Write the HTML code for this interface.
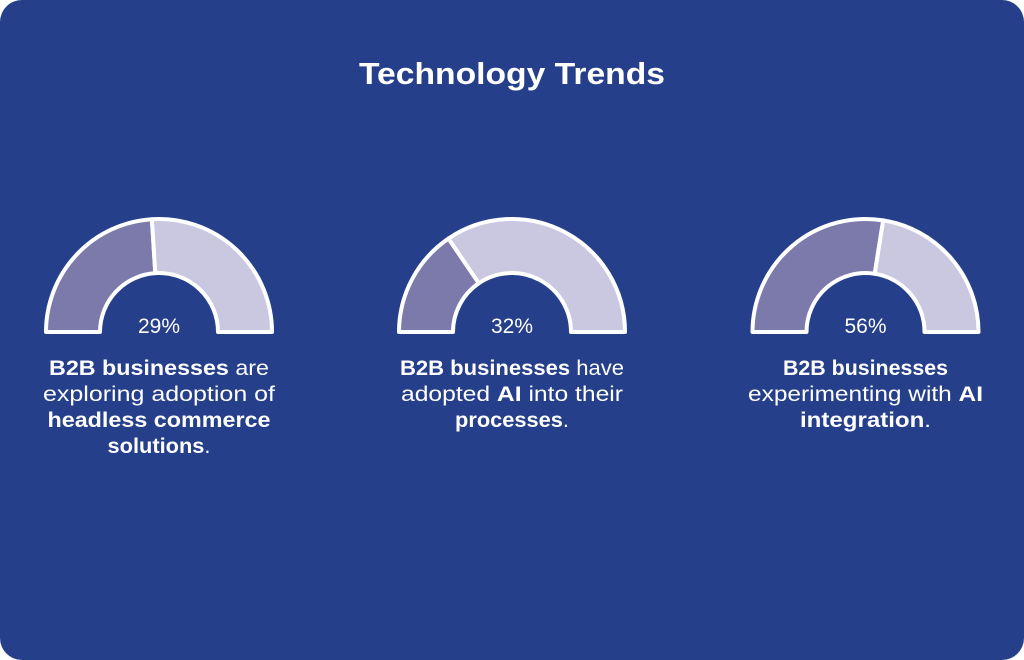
<!DOCTYPE html>
<html><head><meta charset="utf-8"><style>
html,body{margin:0;padding:0;background:#fff;}
svg{display:block;font-family:"Liberation Sans",sans-serif;}
</style></head><body>
<svg width="1024" height="660" viewBox="0 0 1024 660">
<rect x="0" y="0" width="1024" height="660" rx="22" fill="#253f8a"/>
<text x="512" y="84" text-anchor="middle" fill="#fff" font-size="31" font-weight="bold" textLength="306" lengthAdjust="spacingAndGlyphs">Technology Trends</text>
<g id="gauges"></g>
</svg>
<script>
const categories = ["headless-commerce","ai-adopted","ai-experimenting"];
const values = [29, 32, 56];
const arcFill = [48, 31, 55];
const lines = [
  [[["B2B businesses",1],[" are",0]],[["exploring adoption of",0]],[["headless commerce",1]],[["solutions",1],[".",0]]],
  [[["B2B businesses",1],[" have",0]],[["adopted ",0],["AI",1],[" into their",0]],[["processes",1],[".",0]]],
  [[["B2B businesses",1]],[["experimenting with ",0],["AI",1]],[["integration",1],[".",0]]]
];
const lineWidths = [[220,232,223,103],[224,222,114],[165,235,131]];
const NS="http://www.w3.org/2000/svg";
const g=document.getElementById('gauges');
const centers=[159,512,865.5], cy=332, R=113, r=59;
function pt(rad,a){return [centers[0]*0+rad*Math.cos(a), -rad*Math.sin(a)];}
function seg(cx,a0,a1){
  const p=(rad,a)=>[cx+rad*Math.cos(a), cy-rad*Math.sin(a)];
  const [x0,y0]=p(R,a0),[x1,y1]=p(R,a1),[x2,y2]=p(r,a1),[x3,y3]=p(r,a0);
  return `M${x0},${y0} A${R},${R} 0 0 1 ${x1},${y1} L${x2},${y2} A${r},${r} 0 0 0 ${x3},${y3} Z`;
}
categories.forEach((c,i)=>{
  const cx=centers[i];
  const split=Math.PI*(1-arcFill[i]/100);
  const grp=document.createElementNS(NS,'g');
  
  
  const d=document.createElementNS(NS,'path');
  d.setAttribute('d',seg(cx,Math.PI,split));
  d.setAttribute('fill','#7b7aaa');d.setAttribute('stroke','#fff');d.setAttribute('stroke-width','4');d.setAttribute('stroke-linejoin','round');
  
  
  const l=document.createElementNS(NS,'path');
  l.setAttribute('d',seg(cx,split,0));
  l.setAttribute('fill','#c9c8e0');l.setAttribute('stroke','#fff');l.setAttribute('stroke-width','4');l.setAttribute('stroke-linejoin','round');
  
  
  grp.appendChild(d);grp.appendChild(l);
  const t=document.createElementNS(NS,'text');
  t.setAttribute('x',cx);t.setAttribute('y',333);t.setAttribute('text-anchor','middle');
  t.setAttribute('fill','#fff');t.setAttribute('font-size','21');
  t.textContent=values[i]+'%';
  
  
  grp.appendChild(t);
  lines[i].forEach((ln,j)=>{
    const tx=document.createElementNS(NS,'text');
    tx.setAttribute('x',cx);tx.setAttribute('y',375+26*j);tx.setAttribute('text-anchor','middle');
    tx.setAttribute('fill','#fff');tx.setAttribute('font-size','21');
    tx.setAttribute('textLength',lineWidths[i][j]);tx.setAttribute('lengthAdjust','spacingAndGlyphs');
    
    
    ln.forEach(([s,b])=>{
      const ts=document.createElementNS(NS,'tspan');
      if(b) ts.setAttribute('font-weight','bold');
      ts.textContent=s;
      tx.appendChild(ts);
    });
    grp.appendChild(tx);
  });
  g.appendChild(grp);
});
</script>
</body></html>
